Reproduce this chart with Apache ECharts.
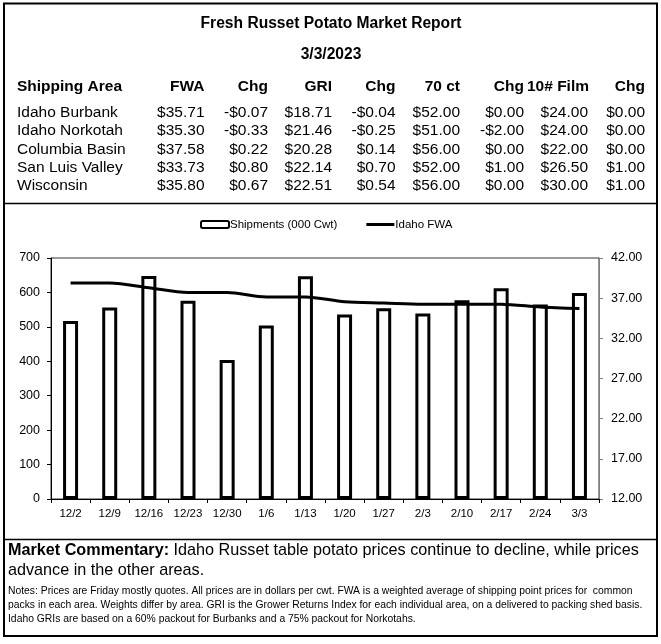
<!DOCTYPE html>
<html>
<head>
<meta charset="utf-8">
<script src="https://cdn.jsdelivr.net/npm/echarts@6/dist/echarts.min.js"></script>
<style>
html,body{margin:0;padding:0;background:#fff;}
#main{width:661px;height:644px;}
</style>
</head>
<body>
<div id="main"></div>
<script>
// ---- Data ----
var weeks = ['12/2','12/9','12/16','12/23','12/30','1/6','1/13','1/20','1/27','2/3','2/10','2/17','2/24','3/3'];
var shipments = [517, 556, 648, 576, 404, 504, 647, 536, 554, 539, 577, 612, 565, 598];
var idahoFWA = [38.9, 38.9, 38.3, 37.7, 37.7, 37.15, 37.15, 36.55, 36.4, 36.25, 36.25, 36.25, 35.9, 35.7];

var headers = ['Shipping Area','FWA','Chg','GRI','Chg','70 ct','Chg','10# Film','Chg'];
var areas = ['Idaho Burbank','Idaho Norkotah','Columbia Basin','San Luis Valley','Wisconsin'];
var fwa = ['$35.71','$35.30','$37.58','$33.73','$35.80'];
var fwaChg = ['-$0.07','-$0.33','$0.22','$0.80','$0.67'];
var gri = ['$18.71','$21.46','$20.28','$22.14','$22.51'];
var griChg = ['-$0.04','-$0.25','$0.14','$0.70','$0.54'];
var ct70 = ['$52.00','$51.00','$56.00','$52.00','$56.00'];
var ct70Chg = ['$0.00','-$2.00','$0.00','$1.00','$0.00'];
var film = ['$24.00','$24.00','$22.00','$26.50','$30.00'];
var filmChg = ['$0.00','$0.00','$0.00','$1.00','$1.00'];

var titleText = 'Fresh Russet Potato Market Report';
var dateText = '3/3/2023';
var commentaryLabel = 'Market Commentary:';
var commentary1 = ' Idaho Russet table potato prices continue to decline, while prices';
var commentary2 = 'advance in the other areas.';
var notes = [
  'Notes: Prices are Friday mostly quotes. All prices are in dollars per cwt. FWA is a weighted average of shipping point prices for  common',
  'packs in each area. Weights differ by area. GRI is the Grower Returns Index for each individual area, on a delivered to packing shed basis.',
  'Idaho GRIs are based on a 60% packout for Burbanks and a 75% packout for Norkotahs.'
];

// ---- Layout ----
var FONT = '"Liberation Sans", Arial, sans-serif';
var colRight = [null, 204.5, 268, 332, 395.5, 460, 524, 588, 645];
var headerRight = [null, 204.5, 268, 332, 395.5, 460, 524, 589, 645];
var headerY = 87;
var rowY = [112.5, 131, 149.5, 167.5, 186];
var columns = [areas, fwa, fwaChg, gri, griChg, ct70, ct70Chg, film, filmChg];

var graphics = [];
function txt(text, x, y, size, weight, align) {
  graphics.push({
    type: 'text', x: x, y: y, silent: true,
    style: {
      text: text, fill: '#000',
      font: (weight || 'normal') + ' ' + size + 'px ' + FONT,
      align: align || 'left', verticalAlign: 'middle'
    }
  });
}
function hline(x1, x2, y, w) {
  graphics.push({type:'line', silent:true, shape:{x1:x1,y1:y,x2:x2,y2:y}, style:{stroke:'#000', lineWidth:w}});
}
// frames
graphics.push({type:'rect', silent:true, shape:{x:4, y:3.5, width:653, height:632.5}, style:{fill:'none', stroke:'#000', lineWidth:2}});
hline(4, 657, 203.5, 1.3);
hline(4, 657, 539.5, 1.3);

txt(titleText, 331, 24, 15.6, 'bold', 'center');
txt(dateText, 331, 55, 15.6, 'bold', 'center');
txt(headers[0], 17, headerY, 15.5, 'bold', 'left');
for (var c = 1; c < headers.length; c++) txt(headers[c], headerRight[c], headerY, 15.5, 'bold', 'right');
for (var r = 0; r < areas.length; r++) {
  txt(areas[r], 17, rowY[r], 15.5, 'normal', 'left');
  for (var c2 = 1; c2 < columns.length; c2++) txt(columns[c2][r], colRight[c2], rowY[r], 15.5, 'normal', 'right');
}
graphics.push({
  type:'text', x:8, y:551, silent:true,
  style:{
    text:'{b|' + commentaryLabel + '}{n|' + commentary1 + '}',
    verticalAlign:'middle', align:'left',
    rich:{
      b:{font:'bold 16.2px ' + FONT, fill:'#000'},
      n:{font:'normal 16.2px ' + FONT, fill:'#000'}
    }
  }
});
txt(commentary2, 8, 571, 16.2, 'normal', 'left');
txt(notes[0], 8, 591, 10.35, 'normal', 'left');
txt(notes[1], 8, 605, 10.35, 'normal', 'left');
txt(notes[2], 8, 619, 10.35, 'normal', 'left');

var chart = echarts.init(document.getElementById('main'), null, {renderer:'canvas'});
chart.setOption({
  animation: false,
  backgroundColor: '#fff',
  textStyle: {fontFamily: FONT},
  legend: {
    top: 218.5, left: 200, padding: 0,
    itemGap: 29,
    itemWidth: 28, itemHeight: 7,
    symbolKeepAspect: true,
    textStyle: {fontSize: 11.5, color: '#000', fontFamily: FONT, padding: [0, 0, 0, -4]},
    data: [
      {name:'Shipments (000 Cwt)', icon:'roundRect'},
      {name:'Idaho FWA', icon:'path://M0 0H28V3H0Z', itemStyle:{color:'#000', borderWidth:0}}
    ]
  },
  grid: {
    left: 51, right: 62, top: 258, bottom: 145,
    show: true, borderColor: '#333', borderWidth: 1, backgroundColor: 'transparent'
  },
  xAxis: {
    type: 'category', data: weeks,
    axisLine: {lineStyle:{color:'#000', width:1}},
    axisTick: {show:true, length:4, lineStyle:{color:'#000'}},
    axisLabel: {fontSize: 11.5, color: '#000', margin: 9, fontFamily: FONT},
    splitLine: {show:false}
  },
  yAxis: [
    {
      type: 'value', min: 0, max: 700, interval: 100,
      axisLine: {show:true, lineStyle:{color:'#000', width:1}},
      axisTick: {show:true, length:4, lineStyle:{color:'#000'}},
      axisLabel: {fontSize: 12.5, color:'#000', margin: 11, fontFamily: FONT},
      splitLine: {show:false}
    },
    {
      type: 'value', min: 12, max: 42, interval: 5, position: 'right',
      axisLine: {show:true, lineStyle:{color:'#808080', width:1}},
      axisTick: {show:true, length:4, lineStyle:{color:'#808080'}},
      axisLabel: {fontSize: 12.5, color:'#000', margin: 12, fontFamily: FONT,
        formatter: function(v){ return v.toFixed(2); }},
      splitLine: {show:false}
    }
  ],
  series: [
    {
      name: 'Shipments (000 Cwt)', type: 'bar', data: shipments,
      barWidth: 15,
      itemStyle: {color:'#fff', borderColor:'#000', borderWidth:3}
    },
    {
      name: 'Idaho FWA', type: 'line', yAxisIndex: 1, data: idahoFWA,
      smooth: 0.3, symbol: 'none', showSymbol: false,
      lineStyle: {color:'#000', width:3}, itemStyle:{color:'#000'}, z: 5
    }
  ],
  graphic: graphics
});
</script>
</body>
</html>
